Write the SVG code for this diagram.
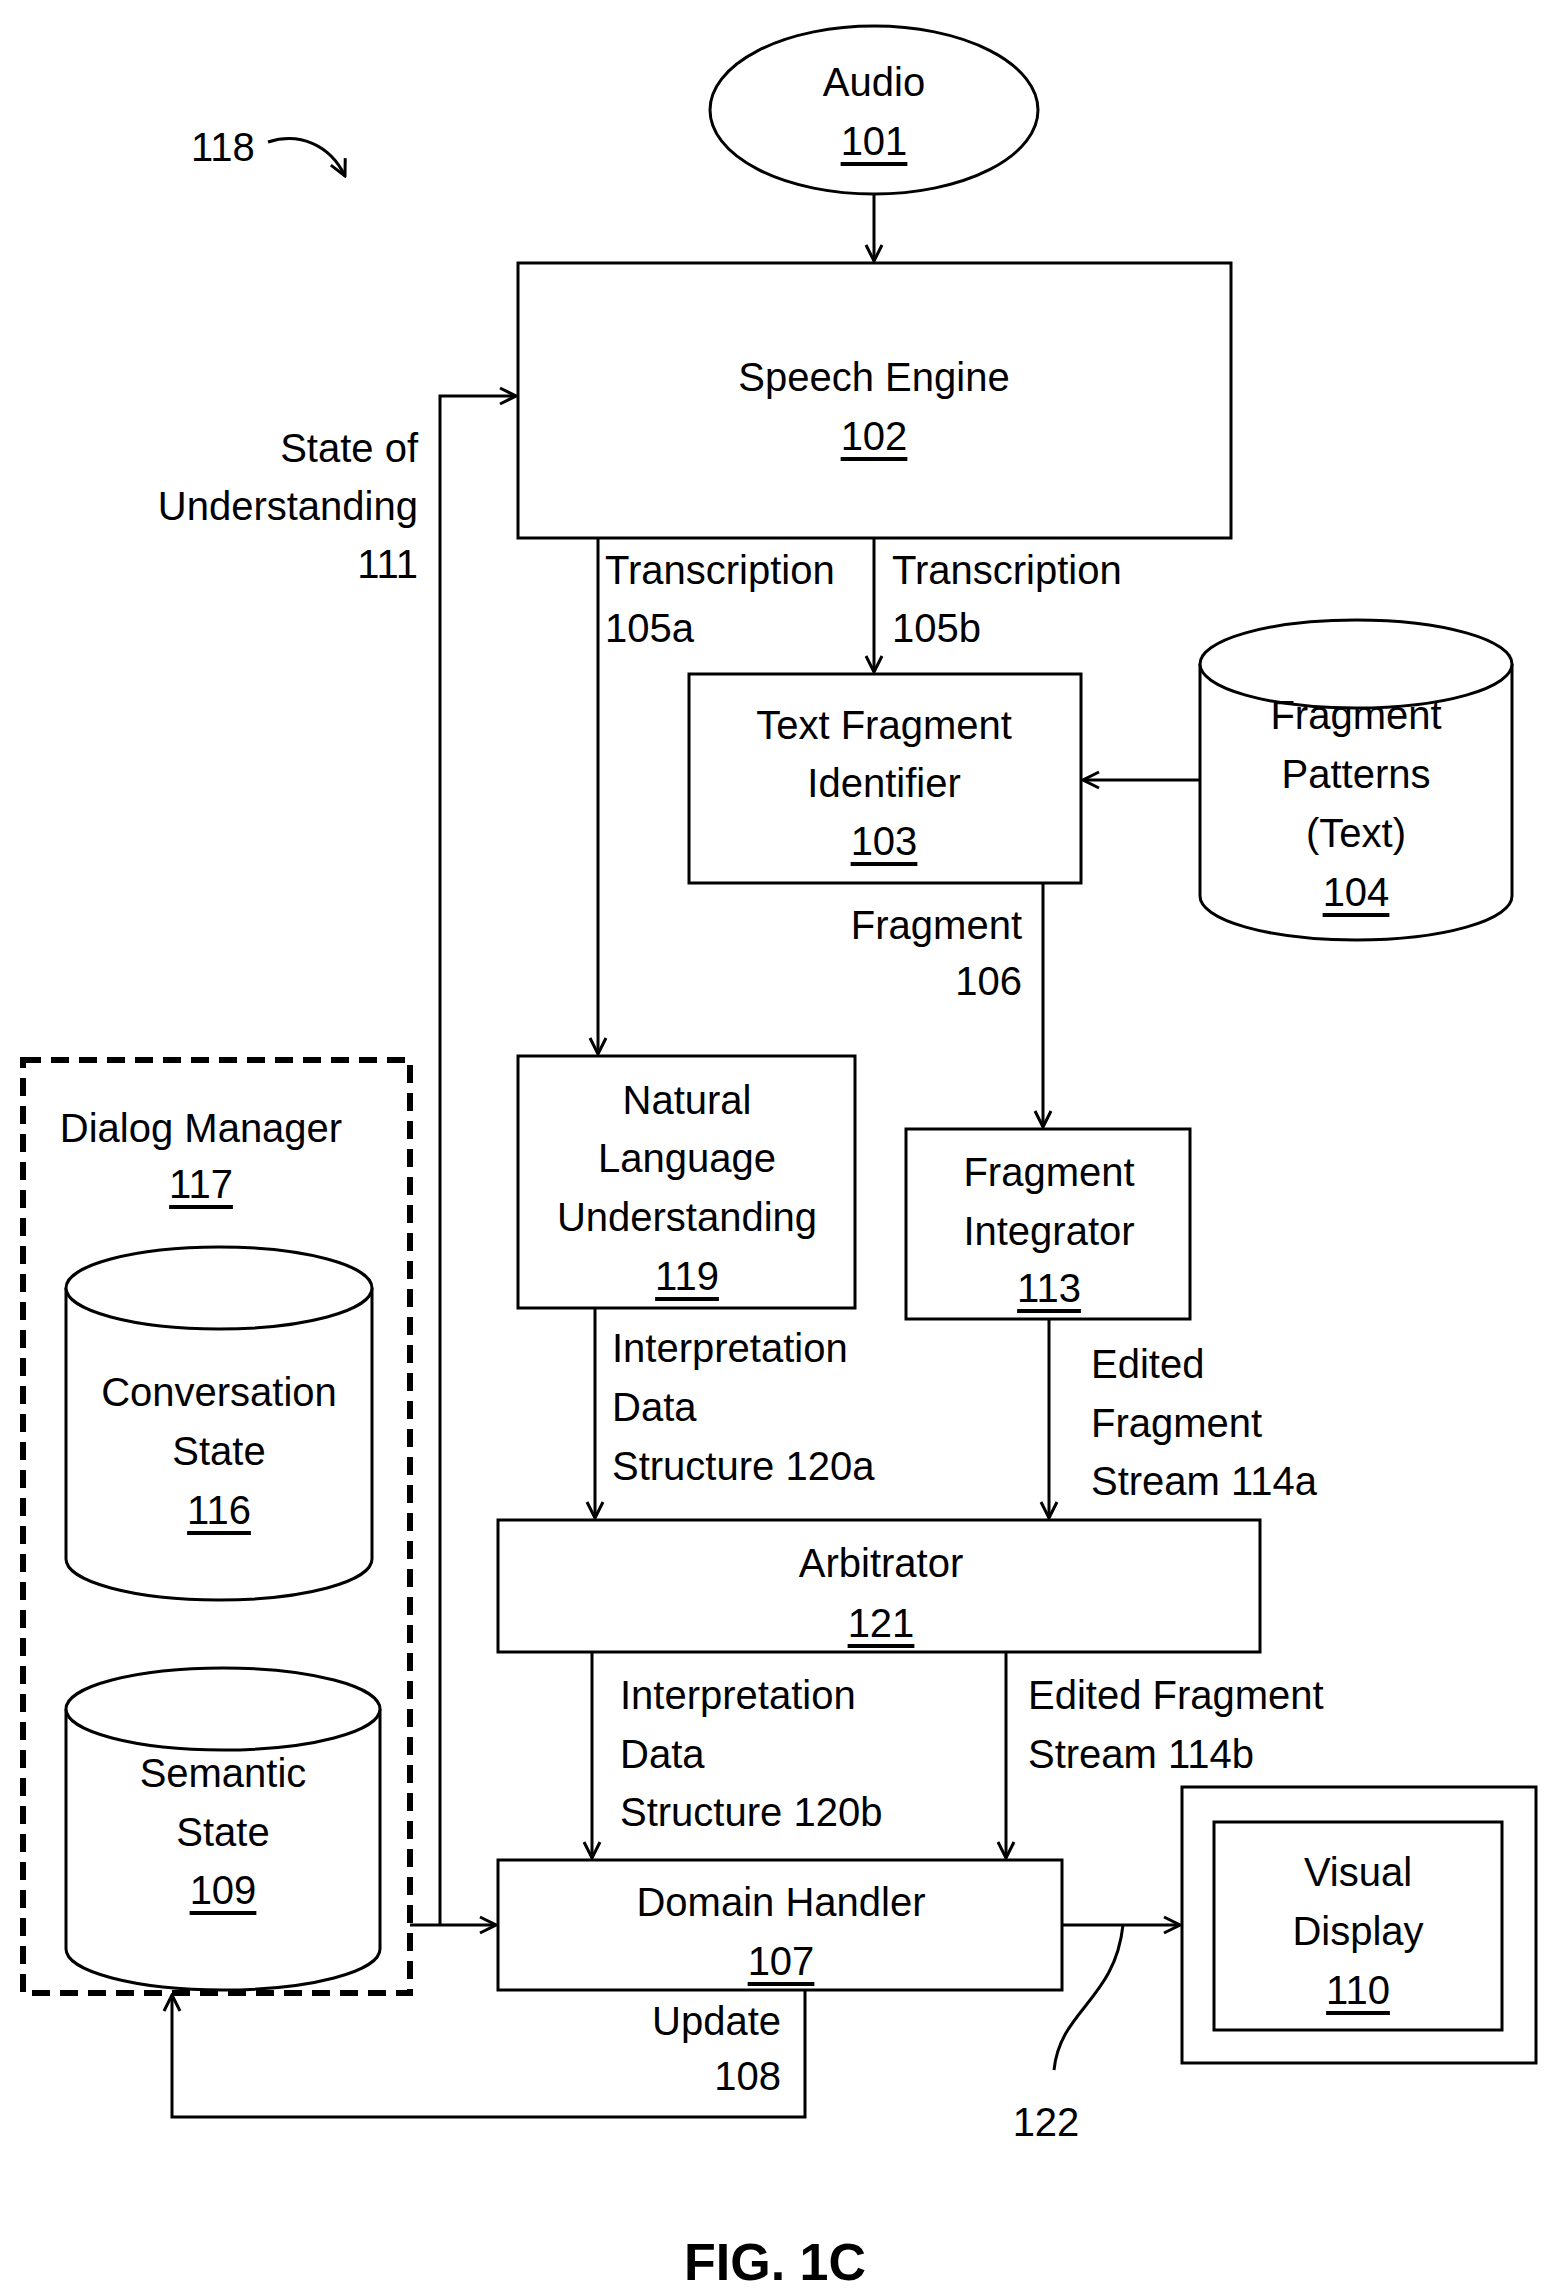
<svg xmlns="http://www.w3.org/2000/svg" width="1555" height="2296" viewBox="0 0 1555 2296">
<style>
text{font-family:"Liberation Sans",Arial,sans-serif;font-size:40px;fill:#000;dominant-baseline:central}
.c{text-anchor:middle}.r{text-anchor:end}
.u{text-decoration:underline}
.b{fill:#fff;stroke:#000;stroke-width:3}
.l{fill:none;stroke:#000;stroke-width:3}
</style>
<defs><marker id="a" markerWidth="20" markerHeight="20" refX="18" refY="10" orient="auto" markerUnits="userSpaceOnUse"><path d="M2,2 L18,10 L2,18" fill="none" stroke="#000" stroke-width="3"/></marker></defs>
<rect width="1555" height="2296" fill="#fff"/>
<g id="connectors" class="l">
<line x1="874" y1="194" x2="874" y2="261" marker-end="url(#a)" class="l"/>
<line x1="874" y1="538" x2="874" y2="672" marker-end="url(#a)" class="l"/>
<line x1="598" y1="538" x2="598" y2="1054" marker-end="url(#a)" class="l"/>
<line x1="1200" y1="780" x2="1083" y2="780" marker-end="url(#a)" class="l"/>
<line x1="1043" y1="883" x2="1043" y2="1127" marker-end="url(#a)" class="l"/>
<line x1="595" y1="1308" x2="595" y2="1518" marker-end="url(#a)" class="l"/>
<line x1="1049" y1="1319" x2="1049" y2="1518" marker-end="url(#a)" class="l"/>
<line x1="592" y1="1652" x2="592" y2="1858" marker-end="url(#a)" class="l"/>
<line x1="1006" y1="1652" x2="1006" y2="1858" marker-end="url(#a)" class="l"/>
<line x1="1062" y1="1925" x2="1180" y2="1925" marker-end="url(#a)" class="l"/>
<line x1="410" y1="1925" x2="496" y2="1925" marker-end="url(#a)" class="l"/>
<polyline points="440,1925 440,396 516,396" marker-end="url(#a)" class="l"/>
<polyline points="805,1990 805,2117 172,2117 172,1995" marker-end="url(#a)" class="l"/>
<path d="M1123,1925 C1115,2000 1060,2010 1054,2070" class="l"/>
<path d="M268,142 C300,132 330,145 345,176" marker-end="url(#a)" class="l"/>
</g>
<g id="audio"><ellipse cx="874" cy="110" rx="164" ry="84" class="b"/><text x="874" y="82" class="c">Audio</text><text x="874" y="141" class="c u">101</text></g>
<g id="speech"><rect x="518" y="263" width="713" height="275" class="b"/><text x="874" y="377" class="c">Speech Engine</text><text x="874" y="436" class="c u">102</text></g>
<g id="labels1"><text x="605" y="570">Transcription</text><text x="605" y="628">105a</text><text x="892" y="570">Transcription</text><text x="892" y="628">105b</text>
<text x="418" y="448" class="r">State of</text><text x="418" y="506" class="r">Understanding</text><text x="418" y="564" class="r">111</text>
<text x="1022" y="925" class="r">Fragment</text><text x="1022" y="981" class="r">106</text>
<text x="612" y="1348">Interpretation</text><text x="612" y="1407">Data</text><text x="612" y="1466">Structure 120a</text>
<text x="1091" y="1364">Edited</text><text x="1091" y="1423">Fragment</text><text x="1091" y="1481">Stream 114a</text>
<text x="620" y="1695">Interpretation</text><text x="620" y="1754">Data</text><text x="620" y="1812">Structure 120b</text>
<text x="1028" y="1695">Edited Fragment</text><text x="1028" y="1754">Stream 114b</text>
<text x="781" y="2021" class="r">Update</text><text x="781" y="2076" class="r">108</text>
<text x="1046" y="2122" class="c">122</text><text x="191" y="147">118</text>
<text x="775" y="2262" class="c" style="font-weight:bold;font-size:52px">FIG. 1C</text></g>
<g id="tfi"><rect x="689" y="674" width="392" height="209" class="b"/><text x="884" y="725" class="c">Text Fragment</text><text x="884" y="783" class="c">Identifier</text><text x="884" y="841" class="c u">103</text></g>
<g id="patterns"><path d="M1200,664 L1200,896 A156,44 0 0 0 1512,896 L1512,664" class="b"/><ellipse cx="1356" cy="664" rx="156" ry="44" class="b"/><text x="1356" y="715" class="c">Fragment</text><text x="1356" y="774" class="c">Patterns</text><text x="1356" y="833" class="c">(Text)</text><text x="1356" y="892" class="c u">104</text></g>
<g id="nlu"><rect x="518" y="1056" width="337" height="252" class="b"/><text x="687" y="1100" class="c">Natural</text><text x="687" y="1158" class="c">Language</text><text x="687" y="1217" class="c">Understanding</text><text x="687" y="1276" class="c u">119</text></g>
<g id="integrator"><rect x="906" y="1129" width="284" height="190" class="b"/><text x="1049" y="1172" class="c">Fragment</text><text x="1049" y="1231" class="c">Integrator</text><text x="1049" y="1288" class="c u">113</text></g>
<g id="arbitrator"><rect x="498" y="1520" width="762" height="132" class="b"/><text x="881" y="1563" class="c">Arbitrator</text><text x="881" y="1623" class="c u">121</text></g>
<g id="domain"><rect x="498" y="1860" width="564" height="130" class="b"/><text x="781" y="1902" class="c">Domain Handler</text><text x="781" y="1961" class="c u">107</text></g>
<g id="display"><rect x="1182" y="1787" width="354" height="276" class="b"/><rect x="1214" y="1822" width="288" height="208" class="b"/><text x="1358" y="1872" class="c">Visual</text><text x="1358" y="1931" class="c">Display</text><text x="1358" y="1990" class="c u">110</text></g>
<g id="dialog"><rect x="23" y="1060" width="387" height="933" fill="none" stroke="#000" stroke-width="6" stroke-dasharray="18,10"/><text x="201" y="1128" class="c">Dialog Manager</text><text x="201" y="1184" class="c u">117</text>
<path d="M66,1288 L66,1559 A153,41 0 0 0 372,1559 L372,1288" class="b"/><ellipse cx="219" cy="1288" rx="153" ry="41" class="b"/><text x="219" y="1392" class="c">Conversation</text><text x="219" y="1451" class="c">State</text><text x="219" y="1510" class="c u">116</text>
<path d="M66,1709 L66,1949 A157,41 0 0 0 380,1949 L380,1709" class="b"/><ellipse cx="223" cy="1709" rx="157" ry="41" class="b"/><text x="223" y="1773" class="c">Semantic</text><text x="223" y="1832" class="c">State</text><text x="223" y="1890" class="c u">109</text></g>
</svg>
